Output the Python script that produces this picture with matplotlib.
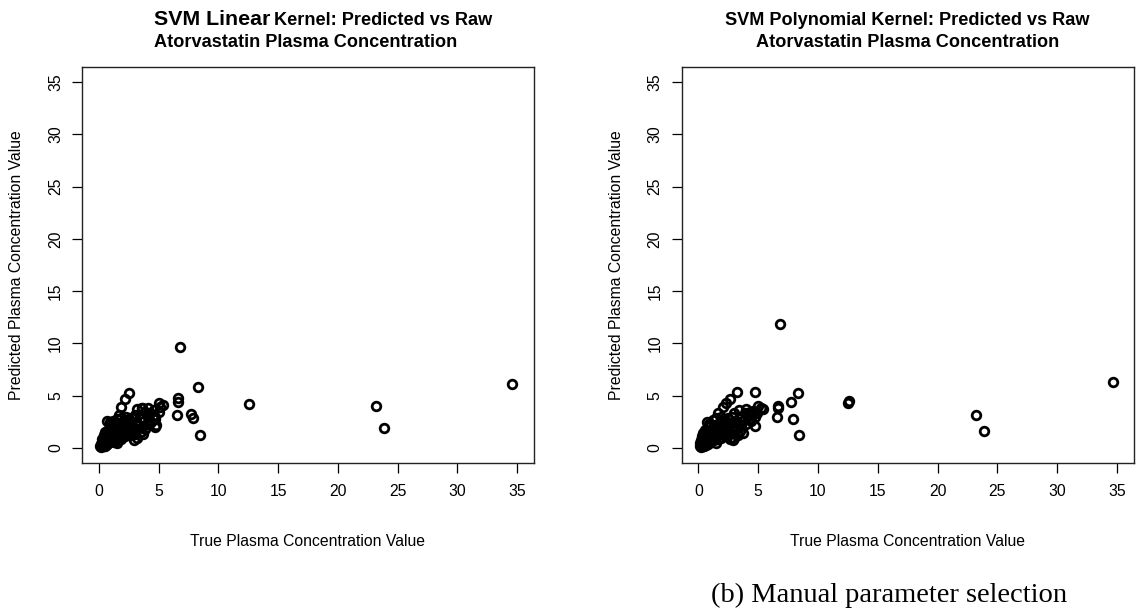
import numpy as np
import matplotlib.pyplot as plt

plt.rcParams['font.family'] = ['Liberation Sans', 'DejaVu Sans']

# true vs predicted plasma concentration, linear kernel
lin_true = [0.1, 0.15, 0.2, 0.25, 0.3, 0.3, 0.35, 0.4, 0.4, 0.45, 0.5, 0.5, 0.55, 0.6, 0.6,
            0.7, 0.7, 0.67, 0.8, 0.8, 0.9, 0.9, 1.0, 1.0, 1.0, 1.1, 1.1, 1.2, 1.2, 1.3,
            1.3, 1.4, 1.4, 1.5, 1.5, 1.6, 1.6, 1.7, 1.7, 1.8, 1.8, 1.9, 1.9, 2.0, 2.0,
            1.87, 2.1, 2.2, 2.2, 2.3, 2.3, 2.4, 2.23, 2.5, 2.5, 2.6, 2.57, 2.7, 2.8, 2.8,
            2.96, 2.9, 3.0, 3.0, 3.1, 3.2, 3.18, 3.4, 3.5, 3.5, 3.6, 3.6, 3.7, 3.8, 3.9,
            3.9, 4.0, 4.1, 4.2, 4.3, 4.4, 4.5, 4.6, 4.7, 4.75, 0.2, 0.5, 0.7, 1.5, 1.25,
            3.2, 3.6, 4.1, 5.08, 5.36, 5.14, 5.0, 4.72, 4.7,
            6.76, 8.32, 12.57, 6.62, 6.62, 6.56, 7.68, 7.9, 8.43, 23.2, 23.86, 34.6]
lin_pred = [0.2, 0.4, 0.1, 0.6, 0.3, 0.9, 0.5, 0.2, 1.2, 0.7, 0.4, 1.0, 1.5, 0.6, 0.3,
            1.3, 0.8, 2.6, 0.5, 1.7, 1.0, 2.5, 0.7, 1.4, 2.2, 1.8, 0.9, 1.2, 2.6, 0.6,
            1.6, 2.1, 1.0, 2.8, 1.4, 0.8, 1.9, 3.2, 1.2, 2.4, 1.6, 2.9, 0.9, 1.3, 2.0,
            3.89, 1.7, 2.6, 1.1, 3.0, 2.2, 1.5, 4.68, 1.9, 2.8, 1.2, 5.29, 2.3, 1.6, 2.9,
            0.77, 2.0, 3.2, 1.3, 2.5, 1.8, 0.93, 2.2, 2.9, 1.5, 3.8, 2.0, 1.3, 2.6, 3.4,
            1.8, 2.3, 3.0, 2.7, 3.3, 2.5, 3.1, 3.6, 2.8, 2.17, 0.3, 0.2, 0.4, 0.5, 2.3,
            3.7, 3.85, 3.8, 4.33, 4.08, 3.89, 3.47, 2.99, 2.0,
            9.63, 5.83, 4.18, 4.75, 4.43, 3.15, 3.28, 2.87, 1.21, 3.97, 1.95, 6.1]

# true vs predicted plasma concentration, polynomial kernel
poly_true = [0.1, 0.15, 0.2, 0.25, 0.3, 0.3, 0.35, 0.4, 0.4, 0.45, 0.5, 0.5, 0.55, 0.6, 0.6,
             0.7, 0.7, 0.7, 0.8, 0.8, 0.9, 0.9, 1.0, 1.0, 1.0, 1.1, 1.1, 1.2, 1.2, 1.3,
             1.3, 1.4, 1.4, 1.5, 1.5, 1.6, 1.6, 1.66, 1.7, 1.8, 1.8, 1.9, 1.9, 2.03, 2.0,
             2.1, 2.1, 2.2, 2.2, 2.31, 2.3, 2.4, 2.5, 2.5, 2.65, 2.6, 2.7, 2.8, 2.8, 2.93,
             2.9, 3.0, 3.0, 3.1, 3.2, 3.43, 3.99, 3.4, 3.5, 3.5, 3.6, 3.7, 3.8, 3.9, 4.0,
             4.1, 4.2, 4.3, 4.4, 4.5, 4.6, 4.77, 4.7, 0.2, 0.5, 0.8, 1.5, 2.6, 3.3,
             5.02, 5.25, 5.39, 4.9,
             6.78, 3.21, 4.77, 8.35, 7.7, 6.65, 6.65, 6.59, 7.9, 8.43, 12.57, 12.51,
             23.24, 23.9, 34.67]
poly_pred = [0.2, 0.5, 0.1, 0.8, 0.3, 1.1, 0.6, 0.2, 1.4, 0.9, 0.4, 1.2, 1.7, 0.7, 0.3,
             1.5, 0.9, 2.5, 0.6, 2.0, 1.1, 2.3, 0.7, 1.5, 2.1, 1.8, 1.0, 1.3, 2.7, 0.8,
             1.7, 2.2, 1.1, 2.9, 1.5, 0.9, 2.0, 3.32, 1.3, 2.5, 1.7, 3.0, 1.0, 3.95, 1.4,
             2.1, 1.6, 2.7, 1.2, 4.33, 2.3, 1.6, 2.0, 2.9, 4.68, 1.3, 2.4, 1.7, 3.0, 0.77,
             2.1, 3.3, 1.0, 2.6, 1.9, 3.6, 3.7, 2.3, 3.0, 1.6, 2.1, 1.4, 2.7, 3.3, 2.3,
             3.1, 2.8, 3.4, 2.6, 3.2, 3.5, 2.1, 3.0, 0.3, 0.2, 0.4, 0.5, 0.9, 1.2,
             4.0, 3.85, 3.7, 3.3,
             11.85, 5.32, 5.32, 5.23, 4.37, 4.0, 3.8, 2.96, 2.74, 1.24, 4.52, 4.33,
             3.2, 1.6, 6.3]

ticks = [0, 5, 10, 15, 20, 25, 30, 35]
xlabel = 'True Plasma Concentration Value'
ylabel = 'Predicted Plasma Concentration Value'

W, H = 1136, 612
fig = plt.figure(figsize=(W / 100, H / 100), dpi=100)


def panel(left_px, xs, ys):
    ax = fig.add_axes([left_px / W, 1 - 462.6 / H, 452 / W, 395.2 / H])
    ax.plot(xs, ys, 'o', mfc='none', mec='black', ms=6.2, mew=2.0, clip_on=False)
    ax.set_xlim(-1.4, 36.4)
    ax.set_ylim(-1.4, 36.4)
    ax.set_xticks(ticks)
    ax.set_yticks(ticks)
    ax.set_yticklabels([str(t) for t in ticks], rotation=90, va='center')
    ax.tick_params(direction='out', length=7.2, width=0.9, labelsize=11.3, pad=8)
    ax.tick_params(axis='y', pad=6.5)
    for s in ax.spines.values():
        s.set_linewidth(1.0)
        s.set_color('#222222')
    ax.set_xlabel(xlabel, fontsize=11.3, va='center')
    ax.set_ylabel(ylabel, fontsize=11.3, va='center')
    ax.xaxis.set_label_coords(0.5, (462.6 - 541) / 395.2)
    ax.yaxis.set_label_coords(-65 / 452, 0.5)
    return ax


ax1 = panel(82, lin_true, lin_pred)
ax2 = panel(681.7, poly_true, poly_pred)

# left title: larger "SVM Linear" followed by the rest of the line
t1 = fig.text(154 / W, 1 - 25 / H, 'SVM Linear', fontsize=15.4, fontweight='bold',
              ha='left', va='baseline')
fig.canvas.draw()
bb = t1.get_window_extent()
fig.text((bb.x1 + 4) / W, 1 - 25 / H, 'Kernel: Predicted vs Raw', fontsize=13.1,
         fontweight='bold', ha='left', va='baseline')
fig.text(154 / W, 1 - 46.7 / H, 'Atorvastatin Plasma Concentration', fontsize=13.1,
         fontweight='bold', ha='left', va='baseline')

# right title, centred over the panel
cx = (681.7 + 452 / 2) / W
fig.text(cx, 1 - 25 / H, 'SVM Polynomial Kernel: Predicted vs Raw', fontsize=13.1,
         fontweight='bold', ha='center', va='baseline')
fig.text(cx, 1 - 46.7 / H, 'Atorvastatin Plasma Concentration', fontsize=13.1,
         fontweight='bold', ha='center', va='baseline')

fig.text(889 / W, 1 - 601.7 / H, '(b) Manual parameter selection', fontsize=20.5,
         family='Liberation Serif', ha='center', va='baseline')

fig.savefig('out.png', dpi=100)
